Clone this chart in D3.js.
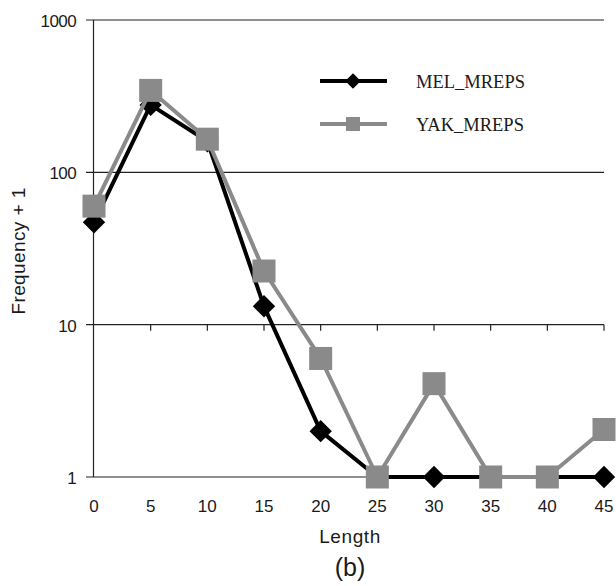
<!DOCTYPE html>
<meta charset="utf-8">
<style>
body { margin: 0; background: #fff; }
.tick-label { font: 17px "Liberation Sans", Arial, sans-serif; fill: #1a1a1a; }
.axis-title { font: 19px "Liberation Sans", Arial, sans-serif; fill: #1a1a1a; }
.legend-label { font: 18.5px "Liberation Serif", "Times New Roman", serif; fill: #1a1a1a; }
</style>
<body>
<svg id="chart" width="616" height="586"></svg>
<script src="https://d3js.org/d3.v7.min.js"></script>
<script>

var lengths = [0, 5, 10, 15, 20, 25, 30, 35, 40, 45];
var melValues = [47, 277, 160, 13.2, 2, 1, 1, 1, 1, 1];
var yakValues = [60, 345, 165, 22.5, 6, 1, 4.1, 1, 1, 2.05];
var yTicks = [1, 10, 100, 1000];
var seriesNames = ["MEL_MREPS", "YAK_MREPS"];

var svg = d3.select("#chart");

var x = d3.scaleLinear().domain([0, 45]).range([94, 604]);
var y = d3.scaleLog().domain([1, 1000]).range([477, 20]);

// gridlines + y ticks
svg.append("g").selectAll("line")
    .data(yTicks)
  .enter().append("line")
    .attr("x1", 86).attr("x2", 604)
    .attr("y1", function(d) { return y(d); })
    .attr("y2", function(d) { return y(d); })
    .attr("stroke", "#222").attr("stroke-width", 1.2);

svg.append("g").selectAll("text")
    .data(yTicks)
  .enter().append("text")
    .attr("class", "tick-label")
    .attr("x", 76)
    .attr("y", function(d) { return y(d) + 7; })
    .attr("text-anchor", "end")
    .style("letter-spacing", "-0.6px")
    .text(function(d) { return d; });

// y axis line
svg.append("line")
    .attr("x1", 93.5).attr("x2", 93.5)
    .attr("y1", y(1000)).attr("y2", y(1))
    .attr("stroke", "#222").attr("stroke-width", 1.2);

// x ticks hang off the 10 line
svg.append("g").selectAll("line")
    .data(lengths.slice(1))
  .enter().append("line")
    .attr("x1", function(d) { return x(d); })
    .attr("x2", function(d) { return x(d); })
    .attr("y1", y(10)).attr("y2", y(10) + 6)
    .attr("stroke", "#222").attr("stroke-width", 1.2);

svg.append("g").selectAll("text")
    .data(lengths)
  .enter().append("text")
    .attr("class", "tick-label")
    .attr("x", function(d) { return x(d); })
    .attr("y", 512)
    .attr("text-anchor", "middle")
    .text(function(d) { return d; });

svg.append("text")
    .attr("class", "axis-title")
    .attr("x", 350).attr("y", 543)
    .attr("text-anchor", "middle")
    .style("letter-spacing", "0.6px")
    .text("Length");

svg.append("text")
    .attr("class", "axis-title")
    .style("font-size", "25px")
    .attr("x", 350).attr("y", 576)
    .attr("text-anchor", "middle")
    .text("(b)");

svg.append("text")
    .attr("class", "axis-title")
    .attr("transform", "translate(25,251) rotate(-90)")
    .attr("text-anchor", "middle")
    .style("letter-spacing", "0.4px")
    .text("Frequency + 1");

var line = d3.line()
    .x(function(d, i) { return x(lengths[i]); })
    .y(function(d) { return y(d); });

function drawSeries(values, color, kind) {
  svg.append("path")
      .datum(values)
      .attr("d", line)
      .attr("fill", "none")
      .attr("stroke", color)
      .attr("stroke-width", 4)
      .attr("stroke-linejoin", "round");
  if (kind == "diamond") {
    svg.append("g").selectAll("path")
        .data(values)
      .enter().append("path")
        .attr("d", d3.symbol().type(d3.symbolSquare).size(250))
        .attr("transform", function(d, i) { return "translate(" + x(lengths[i]) + "," + y(d) + ") rotate(45)"; })
        .attr("fill", color);
  } else {
    svg.append("g").selectAll("rect")
        .data(values)
      .enter().append("rect")
        .attr("x", function(d, i) { return x(lengths[i]) - 11.5; })
        .attr("y", function(d) { return y(d) - 11.5; })
        .attr("width", 23).attr("height", 23)
        .attr("fill", color);
  }
}

drawSeries(melValues, "#000", "diamond");
drawSeries(yakValues, "#8a8a8a", "square");

// legend
var legend = svg.append("g");
var legendRows = [
  { name: seriesNames[0], color: "#000", kind: "diamond", y: 81 },
  { name: seriesNames[1], color: "#8a8a8a", kind: "square", y: 124 }
];
legendRows.forEach(function(r) {
  legend.append("line")
      .attr("x1", 320).attr("x2", 387)
      .attr("y1", r.y).attr("y2", r.y)
      .attr("stroke", r.color).attr("stroke-width", 4);
  if (r.kind == "diamond") {
    legend.append("path")
        .attr("d", d3.symbol().type(d3.symbolSquare).size(120))
        .attr("transform", "translate(353," + r.y + ") rotate(45)")
        .attr("fill", r.color);
  } else {
    legend.append("rect")
        .attr("x", 346).attr("y", r.y - 7)
        .attr("width", 14).attr("height", 14)
        .attr("fill", r.color);
  }
  legend.append("text")
      .attr("class", "legend-label")
      .attr("x", 416).attr("y", r.y + 7)
      .text(r.name);
});

</script>
